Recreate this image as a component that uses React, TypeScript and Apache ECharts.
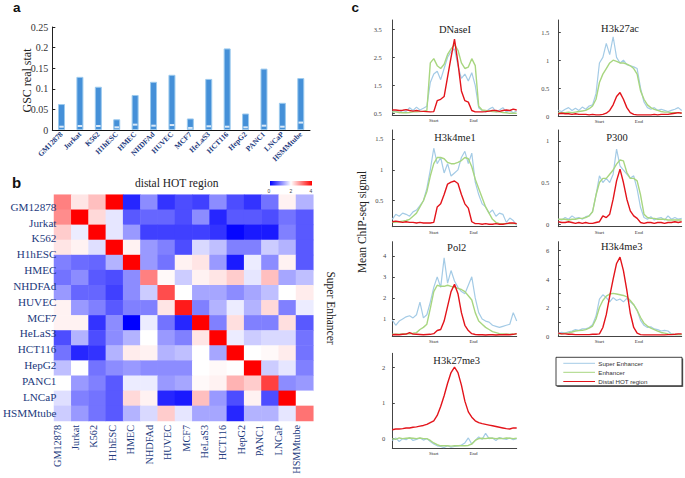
import React, { useEffect, useRef } from 'react';
import * as echarts from 'echarts';

// ---------- Panel a ----------
const CELL_LINES = ['GM12878', 'Jurkat', 'K562', 'H1hESC', 'HMEC', 'NHDFAd', 'HUVEC', 'MCF7', 'HeLaS3', 'HCT116', 'HepG2', 'PANC1', 'LNCaP', 'HSMMtube'];
const GSC_REAL = [0.063, 0.129, 0.105, 0.026, 0.085, 0.117, 0.134, 0.028, 0.124, 0.198, 0.040, 0.149, 0.066, 0.126];
const GSC_NULL = [0.008, 0.0097, 0.0097, 0.0065, 0.013, 0.0105, 0.012, 0.005, 0.009, 0.008, 0.0065, 0.0105, 0.008, 0.018];

// ---------- Panel b ----------
const HEAT_CELLS = ['1', '2', '3', '4', '5', '6', '7', '8', '9', '10', '11', '12', '13', '14', '15'];
const HEAT = [
  [3.0, 2.2, 2.5, 4.0, 0.3, 1.1, 0.4, 0.6, 0.5, 1.1, 0.6, 0.4, 0.9, 2.1, 1.4],
  [2.9, 4.0, 2.3, 1.8, 0.7, 0.8, 0.8, 0.6, 1.1, 0.3, 0.7, 0.7, 0.6, 0.9, 0.7],
  [2.4, 1.85, 4.0, 1.8, 1.2, 0.5, 0.5, 0.5, 0.5, 0.4, 0.05, 0.2, 0.2, 1.0, 0.7],
  [2.2, 2.1, 1.75, 4.0, 2.1, 1.2, 1.0, 0.6, 1.7, 1.5, 1.0, 1.0, 1.6, 1.4, 0.7],
  [1.0, 0.85, 0.8, 1.4, 4.0, 1.2, 0.9, 2.1, 2.2, 1.2, 0.2, 1.85, 1.1, 2.1, 0.7],
  [0.9, 1.1, 0.7, 0.6, 1.1, 3.0, 2.05, 1.6, 2.1, 2.2, 2.4, 1.8, 2.5, 1.3, 1.5],
  [1.2, 0.8, 0.8, 0.5, 1.1, 1.6, 3.4, 2.0, 1.3, 1.3, 1.1, 1.3, 1.5, 2.0, 2.15],
  [2.1, 1.2, 1.0, 0.7, 1.0, 1.0, 2.2, 3.8, 1.0, 1.4, 1.85, 1.4, 2.3, 1.0, 1.85],
  [2.1, 2.1, 0.4, 1.1, 0.0, 1.85, 0.9, 0.3, 4.0, 1.0, 2.25, 1.0, 1.0, 2.25, 0.7],
  [0.6, 1.4, 0.6, 1.1, 1.4, 2.0, 1.2, 1.0, 2.2, 4.0, 1.85, 1.6, 1.7, 1.7, 0.9],
  [0.9, 0.3, 0.4, 1.4, 2.15, 2.1, 1.4, 1.5, 2.0, 1.3, 4.0, 2.0, 2.05, 2.15, 0.9],
  [1.5, 2.0, 0.9, 1.1, 1.2, 1.1, 1.1, 1.1, 2.0, 2.05, 2.0, 4.0, 1.6, 1.8, 1.0],
  [2.0, 1.2, 1.0, 0.7, 1.85, 1.85, 1.2, 1.3, 2.05, 2.1, 2.6, 2.4, 3.5, 1.1, 1.2],
  [1.75, 1.0, 0.9, 0.7, 2.3, 2.1, 0.3, 0.2, 2.5, 1.2, 0.6, 2.1, 0.6, 4.0, 2.0],
  [1.6, 1.2, 0.9, 0.7, 1.4, 1.7, 2.4, 1.8, 1.3, 1.3, 0.3, 1.4, 1.4, 1.8, 3.1],
];
const COLORBAR_TICKS = ['0', '2', '4'];

// ---------- Panel c ----------
const REGION_TICKS = [12, 23.5];
const REGION_LABELS = ['Start', 'End'];
const SERIES_NAMES = ['Super Enhancer', 'Enhancer', 'Distal HOT region'];

const DNASE_SUPER = [0.55, 0.58, 0.52, 0.6, 0.57, 0.7, 0.6, 0.72, 0.62, 0.68, 0.75, 1.6, 1.9, 2.0, 1.7, 2.1, 2.5, 2.7, 2.8, 2.2, 1.75, 1.9, 1.65, 1.95, 1.5, 0.7, 0.6, 0.55, 0.65, 0.72, 0.55, 0.62, 0.7, 0.55, 0.6, 0.52, 0.58];
const DNASE_ENH = [0.55, 0.55, 0.53, 0.52, 0.52, 0.53, 0.55, 0.55, 0.56, 0.57, 0.6, 2.3, 2.45, 2.2, 2.1, 2.25, 2.6, 2.8, 2.95, 2.75, 2.3, 2.1, 2.15, 2.45, 2.2, 0.75, 0.62, 0.6, 0.58, 0.56, 0.55, 0.55, 0.53, 0.52, 0.5, 0.5, 0.5];
const DNASE_HOT = [0.62, 0.62, 0.6, 0.61, 0.63, 0.6, 0.58, 0.6, 0.58, 0.57, 0.56, 0.55, 0.56, 0.95, 1.0, 1.1, 1.8, 2.5, 3.15, 2.3, 1.3, 0.95, 0.9, 0.6, 0.55, 0.55, 0.55, 0.56, 0.58, 0.6, 0.6, 0.57, 0.6, 0.62, 0.6, 0.65, 0.62];

const H3K27AC_SUPER = [0.1, 0.08, 0.12, 0.15, 0.1, 0.14, 0.1, 0.16, 0.12, 0.18, 0.2, 0.4, 0.95, 1.05, 1.3, 1.1, 1.42, 1.05, 0.95, 1.0, 0.92, 0.9, 0.88, 0.85, 0.5, 0.25, 0.15, 0.12, 0.15, 0.1, 0.12, 0.1, 0.08, 0.1, 0.12, 0.15, 0.1];
const H3K27AC_ENH = [0.06, 0.06, 0.06, 0.07, 0.06, 0.07, 0.08, 0.09, 0.1, 0.13, 0.18, 0.3, 0.6, 0.75, 0.85, 0.95, 1.0, 0.98, 0.95, 0.95, 0.93, 0.9, 0.85, 0.75, 0.45, 0.3, 0.2, 0.15, 0.12, 0.1, 0.08, 0.07, 0.07, 0.06, 0.06, 0.06, 0.06];
const H3K27AC_HOT = [0.04, 0.05, 0.04, 0.04, 0.03, 0.04, 0.03, 0.03, 0.03, 0.02, 0.03, 0.02, 0.02, 0.03, 0.05, 0.1, 0.2, 0.35, 0.42, 0.3, 0.15, 0.06, 0.03, 0.02, 0.02, 0.02, 0.02, 0.02, 0.03, 0.02, 0.03, 0.03, 0.03, 0.04, 0.05, 0.06, 0.05];

const H3K4ME1_SUPER = [0.2, 0.28, 0.25, 0.3, 0.28, 0.25, 0.32, 0.35, 0.42, 0.5, 0.7, 1.0, 1.35, 1.1, 1.2, 0.95, 1.1, 0.9, 0.95, 1.0, 1.2, 1.3, 1.1, 1.27, 0.8, 0.6, 0.45, 0.4, 0.3, 0.35, 0.25, 0.3, 0.28, 0.15, 0.22, 0.18, 0.1];
const H3K4ME1_ENH = [0.15, 0.15, 0.16, 0.17, 0.18, 0.2, 0.25, 0.3, 0.4, 0.5, 0.65, 0.9, 1.1, 1.2, 1.2, 1.18, 1.12, 1.1, 1.1, 1.12, 1.15, 1.2, 1.18, 1.05, 0.85, 0.7, 0.55, 0.4, 0.3, 0.2, 0.15, 0.13, 0.13, 0.13, 0.13, 0.13, 0.13];
const H3K4ME1_HOT = [0.16, 0.17, 0.16, 0.15, 0.16, 0.15, 0.15, 0.14, 0.15, 0.14, 0.14, 0.14, 0.15, 0.4, 0.45, 0.6, 0.77, 0.8, 0.82, 0.78, 0.6, 0.45, 0.38, 0.16, 0.13, 0.13, 0.12, 0.13, 0.12, 0.12, 0.13, 0.12, 0.12, 0.13, 0.14, 0.14, 0.13];

const P300_SUPER = [0.06, 0.05, 0.08, 0.06, 0.1, 0.07, 0.08, 0.06, 0.09, 0.1, 0.15, 0.35, 0.58, 0.5, 0.55, 0.5, 0.6, 0.9, 0.7, 0.65, 0.6, 0.55, 0.58, 0.42, 0.2, 0.08, 0.06, 0.09, 0.05, 0.07, 0.08, 0.05, 0.1, 0.06, 0.08, 0.06, 0.07];
const P300_ENH = [0.06, 0.06, 0.06, 0.05, 0.06, 0.06, 0.07, 0.07, 0.08, 0.1, 0.15, 0.35, 0.5, 0.55, 0.55, 0.6, 0.65, 0.72, 0.77, 0.76, 0.62, 0.55, 0.55, 0.52, 0.35, 0.12, 0.08, 0.07, 0.07, 0.06, 0.06, 0.06, 0.05, 0.05, 0.05, 0.05, 0.05];
const P300_HOT = [0.03, 0.02, 0.02, 0.03, 0.02, 0.01, 0.02, 0.01, 0.02, 0.01, 0.01, 0.02, 0.03, 0.1, 0.08, 0.12, 0.3, 0.52, 0.66, 0.5, 0.3, 0.16, 0.1, 0.07, 0.02, 0.01, 0.02, 0.02, 0.01, 0.02, 0.02, 0.01, 0.02, 0.02, 0.03, 0.02, 0.03];

const POL2_SUPER = [0.95, 0.7, 0.9, 1.0, 1.1, 1.15, 1.05, 1.2, 1.8, 1.05, 1.2, 1.8, 2.5, 3.0, 2.5, 3.9, 2.7, 3.3, 2.8, 2.5, 2.3, 2.2, 2.6, 3.0, 2.0, 1.3, 1.0, 0.9, 0.85, 0.7, 0.65, 0.6, 0.65, 0.7, 0.75, 1.3, 0.9];
const POL2_ENH = [0.28, 0.28, 0.28, 0.29, 0.3, 0.3, 0.32, 0.35, 0.5, 0.6, 0.75, 1.5, 2.3, 2.6, 2.55, 2.55, 2.6, 2.55, 2.5, 2.45, 2.4, 2.3, 2.1, 1.9, 1.3, 0.9, 0.75, 0.6, 0.5, 0.4, 0.35, 0.3, 0.29, 0.28, 0.28, 0.28, 0.28];
const POL2_HOT = [0.25, 0.26, 0.25, 0.27, 0.28, 0.35, 0.28, 0.27, 0.26, 0.25, 0.26, 0.27, 0.3, 0.45, 0.5, 0.9, 1.6, 2.3, 2.65, 2.2, 1.3, 0.7, 0.45, 0.3, 0.26, 0.25, 0.25, 0.24, 0.25, 0.25, 0.24, 0.25, 0.25, 0.26, 0.25, 0.27, 0.3];

const H3K4ME3_SUPER = [0.2, 0.25, 0.2, 0.3, 0.35, 0.45, 0.4, 0.5, 0.5, 0.6, 0.8, 1.4, 2.6, 2.9, 2.7, 2.4, 2.7, 2.5, 2.6, 2.4, 2.65, 2.4, 2.2, 1.8, 1.1, 0.75, 0.6, 0.65, 0.5, 0.45, 0.35, 0.4, 0.35, 0.15, 0.1, 0.12, 0.1];
const H3K4ME3_ENH = [0.15, 0.15, 0.2, 0.22, 0.28, 0.35, 0.38, 0.4, 0.45, 0.55, 0.7, 1.2, 2.0, 2.5, 2.8, 2.95, 3.0, 2.95, 2.9, 2.85, 2.75, 2.5, 2.2, 1.8, 1.3, 0.9, 0.7, 0.55, 0.45, 0.35, 0.25, 0.2, 0.15, 0.12, 0.1, 0.1, 0.1];
const H3K4ME3_HOT = [0.2, 0.15, 0.15, 0.12, 0.12, 0.1, 0.1, 0.1, 0.1, 0.1, 0.12, 0.12, 0.15, 0.6, 1.5, 2.8, 4.0, 5.1, 5.55, 4.6, 3.2, 1.6, 0.6, 0.2, 0.1, 0.08, 0.08, 0.08, 0.08, 0.08, 0.08, 0.08, 0.1, 0.1, 0.12, 0.15, 0.15];

const H3K27ME3_SUPER = [-0.05, 0.02, -0.08, 0.0, -0.03, 0.03, -0.05, -0.02, 0.02, -0.04, 0.0, -0.08, -0.15, -0.2, -0.22, -0.25, -0.2, -0.24, -0.22, -0.2, -0.18, -0.12, 0.02, -0.15, -0.05, 0.05, -0.02, 0.15, 0.0, 0.02, -0.05, 0.03, 0.0, -0.02, 0.02, -0.03, 0.0];
const H3K27ME3_ENH = [0.0, -0.02, 0.02, 0.0, 0.01, 0.02, 0.01, 0.0, 0.02, 0.0, 0.0, -0.05, -0.12, -0.17, -0.2, -0.2, -0.2, -0.21, -0.2, -0.2, -0.2, -0.2, -0.19, -0.15, -0.05, 0.0, 0.01, 0.0, 0.02, 0.01, 0.0, 0.01, 0.0, 0.02, 0.01, 0.0, 0.01];
const H3K27ME3_HOT = [0.25, 0.27, 0.27, 0.28, 0.3, 0.3, 0.32, 0.33, 0.35, 0.37, 0.4, 0.45, 0.5, 0.65, 0.9, 1.2, 1.55, 1.85, 2.0, 1.85, 1.5, 1.05, 0.75, 0.6, 0.5, 0.45, 0.42, 0.4, 0.38, 0.36, 0.34, 0.32, 0.3, 0.28, 0.27, 0.3, 0.3];

const PROFILES = [
  { name: 'DNaseI', lines: [DNASE_SUPER, DNASE_ENH, DNASE_HOT], min: 0.44, max: 3.83, labels: [0.5, 1.5, 2.5, 3.5], ticks: [0.5, 1.5, 2.5, 3.5] },
  { name: 'H3k27ac', lines: [H3K27AC_SUPER, H3K27AC_ENH, H3K27AC_HOT], min: 0, max: 1.72, labels: [0, 0.5, 1, 1.5], ticks: [0, 0.5, 1, 1.5] },
  { name: 'H3k4me1', lines: [H3K4ME1_SUPER, H3K4ME1_ENH, H3K4ME1_HOT], min: 0.08, max: 1.645, labels: [0.5, 1, 1.5], ticks: [0.5, 1, 1.5] },
  { name: 'P300', lines: [P300_SUPER, P300_ENH, P300_HOT], min: -0.03, max: 1.13, labels: [0, 0.5, 1], ticks: [0, 0.25, 0.5, 0.75, 1] },
  { name: 'Pol2', lines: [POL2_SUPER, POL2_ENH, POL2_HOT], min: 0.19, max: 4.67, labels: [1, 2, 3, 4], ticks: [1, 2, 3, 4] },
  { name: 'H3k4me3', lines: [H3K4ME3_SUPER, H3K4ME3_ENH, H3K4ME3_HOT], min: 0, max: 6.63, labels: [0, 2, 4, 6], ticks: [0, 1, 2, 3, 4, 5, 6] },
  { name: 'H3k27me3', lines: [H3K27ME3_SUPER, H3K27ME3_ENH, H3K27ME3_HOT], min: -0.27, max: 2.39, labels: [0, 1, 2], ticks: [0, 1, 2] },
];

// ---------- layout / style ----------
const W = 685;
const H = 478;
const SERIF = '"Liberation Serif", "DejaVu Serif", serif';
const SANS = '"Liberation Sans", Arial, sans-serif';
const NAVY = '#22397d';
const LINE_COLORS = ['#a4cbe6', '#a8d680', '#e3141b'];
const LINE_WIDTHS = [1.2, 1.4, 1.4];

const BOXES = [
  { left: 392.3, top: 20, width: 124.4, height: 95, tx: 455, ty: 29.3, lm: 10.5 },
  { left: 558.3, top: 20, width: 123.4, height: 96, tx: 620, ty: 28.3, lm: 9 },
  { left: 392.3, top: 130, width: 124.4, height: 96.7, tx: 455, ty: 137.3, lm: 9 },
  { left: 558.3, top: 130, width: 123.4, height: 96.7, tx: 617, ty: 137, lm: 9 },
  { left: 392.3, top: 241.7, width: 124.4, height: 94.3, tx: 456.7, ty: 247.3, lm: 6 },
  { left: 558.3, top: 241.7, width: 123.4, height: 94.3, tx: 621.7, ty: 246.7, lm: 9 },
  { left: 392.3, top: 353.3, width: 124.4, height: 95, tx: 456.7, ty: 360, lm: 7 },
];

function buildOption() {
  const grids: any[] = [
    { left: 52.3, top: 27, width: 257.7, height: 103 },
    { left: 54, top: 194.7, width: 259.3, height: 226.3 },
    { left: 54, top: 206.7, width: 259.3, height: 206 },
    { left: 57, top: 194.7, width: 239.7, height: 226.3 },
  ];
  const xAxes: any[] = [
    {
      gridIndex: 0, type: 'category', data: CELL_LINES,
      axisLine: { lineStyle: { color: '#111', width: 1 } },
      axisTick: { show: false },
      axisLabel: { rotate: 45, interval: 0, fontSize: 7.5, fontWeight: 'bold', color: NAVY, fontFamily: SERIF, margin: 3 },
    },
    { gridIndex: 1, type: 'category', data: HEAT_CELLS, show: false },
    { gridIndex: 2, type: 'value', show: false, min: 0, max: 1 },
    {
      gridIndex: 3, type: 'category', data: CELL_LINES, boundaryGap: false, position: 'bottom', z: 20,
      axisLine: { show: false, onZero: false }, axisTick: { show: false },
      axisLabel: { rotate: 90, interval: 0, fontSize: 10.2, color: NAVY, fontFamily: SERIF, margin: 4 },
    },
  ];
  const yAxes: any[] = [
    {
      gridIndex: 0, type: 'value', min: 0, max: 0.25, interval: 0.05,
      axisLine: { show: true, lineStyle: { color: '#222' } },
      axisTick: { show: true, inside: true, length: 3, lineStyle: { color: '#222' } },
      splitLine: { show: false },
      axisLabel: { fontSize: 10, color: '#333', fontFamily: SERIF, margin: 4, formatter: (v: number) => String(+v.toFixed(2)) },
    },
    { gridIndex: 1, type: 'category', data: HEAT_CELLS, inverse: true, show: false },
    {
      gridIndex: 2, type: 'category', data: CELL_LINES, inverse: true, boundaryGap: false, position: 'left', z: 20,
      axisLine: { show: false, onZero: false }, axisTick: { show: false },
      axisLabel: { interval: 0, fontSize: 11.2, color: NAVY, fontFamily: SERIF, margin: 3 },
    },
    { gridIndex: 3, type: 'value', show: false, min: 0, max: 1 },
  ];

  const heatData: any[] = [];
  HEAT.forEach((row, r) => row.forEach((v, c) => heatData.push([c, r, v])));

  const series: any[] = [
    {
      type: 'bar', xAxisIndex: 0, yAxisIndex: 0, data: GSC_REAL, barWidth: 7,
      itemStyle: { color: '#4590d8', borderColor: '#9ccaee', borderWidth: 1 },
    },
    {
      type: 'scatter', xAxisIndex: 0, yAxisIndex: 0, data: GSC_NULL, symbol: 'rect', symbolSize: [4.5, 2],
      itemStyle: { color: '#ffffff' }, z: 5,
    },
    { type: 'heatmap', xAxisIndex: 1, yAxisIndex: 1, data: heatData, z: 1 },
  ];

  const graphic: any[] = [
    { type: 'text', style: { text: 'a', x: 13, y: 0.5, fontSize: 13.5, fontWeight: 'bold', fontFamily: SANS, fill: '#111', verticalAlign: 'top' } },
    { type: 'text', style: { text: 'b', x: 12, y: 182, fontSize: 15, fontWeight: 'bold', fontFamily: SANS, fill: '#111', verticalAlign: 'middle' } },
    { type: 'text', style: { text: 'c', x: 351.5, y: 0.5, fontSize: 13.5, fontWeight: 'bold', fontFamily: SANS, fill: '#111', verticalAlign: 'top' } },
    { type: 'text', x: 26.5, y: 80.5, rotation: Math.PI / 2, style: { text: 'GSC real stat', x: 0, y: 0, fontSize: 12, fontFamily: SERIF, fill: '#222', align: 'center', verticalAlign: 'middle' } },
    { type: 'text', style: { text: 'distal HOT region', x: 176.7, y: 183.3, fontSize: 11.5, fontFamily: SERIF, fill: '#222', align: 'center', verticalAlign: 'middle' } },
    { type: 'text', x: 330.5, y: 308, rotation: -Math.PI / 2, style: { text: 'Super Enhancer', x: 0, y: 0, fontSize: 11.5, fontFamily: SERIF, fill: '#222', align: 'center', verticalAlign: 'middle' } },
    {
      type: 'rect', shape: { x: 270, y: 181, width: 42, height: 4.5 },
      style: { fill: new echarts.graphic.LinearGradient(0, 0, 1, 0, [{ offset: 0, color: '#0000ff' }, { offset: 0.5, color: '#ffffff' }, { offset: 1, color: '#ff0000' }]) },
    },
    { type: 'text', x: 361.5, y: 222, rotation: Math.PI / 2, style: { text: 'Mean ChIP-seq signal', x: 0, y: 0, fontSize: 11.5, fontFamily: SERIF, fill: '#222', align: 'center', verticalAlign: 'middle' } },
  ];
  const cbX = [269, 291, 311];
  COLORBAR_TICKS.forEach((t, i) => {
    graphic.push({ type: 'text', style: { text: t, x: cbX[i], y: 191, fontSize: 5, fontFamily: SANS, fill: '#444', align: 'center', verticalAlign: 'middle' } });
  });

  PROFILES.forEach((p, k) => {
    const b = BOXES[k];
    const gi = 4 + k;
    grids.push({ left: b.left, top: b.top, width: b.width, height: b.height });
    xAxes.push({
      gridIndex: gi, type: 'value', min: 0, max: p.lines[0].length - 1,
      axisLine: { show: true, onZero: false, lineStyle: { color: '#444', width: 1 } },
      axisTick: { show: false },
      splitLine: { show: false },
      axisLabel: {
        customValues: REGION_TICKS, fontSize: 5, color: '#333', fontFamily: SERIF, margin: 3,
        formatter: (v: number) => REGION_LABELS[REGION_TICKS.indexOf(v)] ?? '',
      },
    });
    yAxes.push({
      gridIndex: gi, type: 'value', min: p.min, max: p.max,
      axisLine: { show: true, lineStyle: { color: '#444', width: 1 } },
      axisTick: { show: true, inside: true, length: 2.5, customValues: p.ticks, lineStyle: { color: '#444' } },
      splitLine: { show: false },
      axisLabel: { customValues: p.labels, fontSize: 6.5, color: '#444', fontFamily: SERIF, margin: b.lm },
    });
    p.lines.forEach((arr, s) => {
      series.push({
        type: 'line', xAxisIndex: gi, yAxisIndex: gi, showSymbol: false, symbol: 'none',
        data: arr.map((v, i) => [i, v]),
        lineStyle: { color: LINE_COLORS[s], width: LINE_WIDTHS[s] },
        itemStyle: { color: LINE_COLORS[s] },
        z: 2 + s,
      });
    });
    graphic.push({ type: 'text', style: { text: p.name, x: b.tx, y: b.ty, fontSize: 10.5, fontFamily: SERIF, fill: '#222', align: 'center', verticalAlign: 'middle' }, z: 10 });
  });

  // legend box
  const lg = { x: 556, y: 357.3, w: 126, h: 28.5 };
  graphic.push({ type: 'rect', shape: { x: lg.x + 1.2, y: lg.y + 1.2, width: lg.w, height: lg.h }, style: { fill: '#666' } });
  graphic.push({ type: 'rect', shape: { x: lg.x, y: lg.y, width: lg.w, height: lg.h }, style: { fill: '#fff', stroke: '#111', lineWidth: 0.8 } });
  const rowsY = [363.3, 372.3, 381.5];
  SERIES_NAMES.forEach((n, i) => {
    graphic.push({ type: 'line', shape: { x1: 563.3, y1: rowsY[i], x2: 595, y2: rowsY[i] }, style: { stroke: LINE_COLORS[i], lineWidth: 1 } });
    graphic.push({ type: 'text', style: { text: n, x: 598.3, y: rowsY[i], fontSize: 6.2, fontFamily: SANS, fill: '#333', verticalAlign: 'middle' } });
  });

  return {
    animation: false,
    backgroundColor: '#ffffff',
    grid: grids,
    xAxis: xAxes,
    yAxis: yAxes,
    visualMap: {
      show: false, type: 'continuous', min: 0, max: 4, seriesIndex: 2, dimension: 2,
      inRange: { color: ['#0000ff', '#ffffff', '#ff0000'] },
    },
    series,
    graphic,
  };
}

export default function App() {
  const ref = useRef<HTMLDivElement>(null);
  useEffect(() => {
    if (!ref.current) return;
    const chart = echarts.init(ref.current, null, { renderer: 'svg' });
    chart.setOption(buildOption() as any);
    return () => chart.dispose();
  }, []);
  return <div ref={ref} style={{ position: 'absolute', left: 0, top: 0, width: W, height: H, background: '#fff' }} />;
}
